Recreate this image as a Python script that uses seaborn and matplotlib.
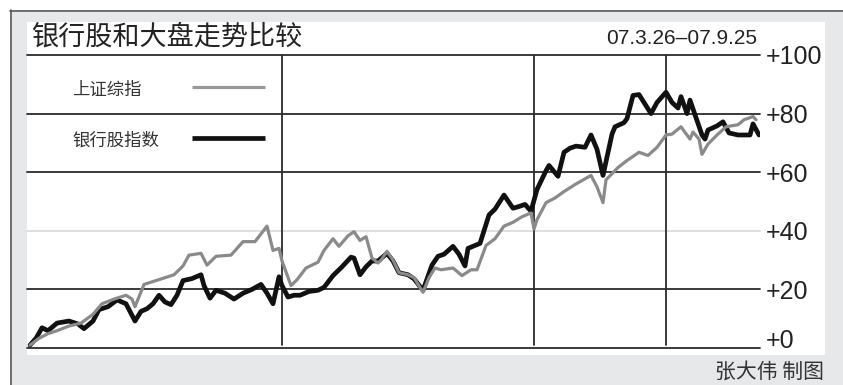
import matplotlib
matplotlib.use("Agg")
import matplotlib.pyplot as plt
import seaborn as sns
import pandas as pd
from matplotlib.patches import Rectangle
from matplotlib.lines import Line2D

# ---------------- data ----------------
title = "银行股和大盘走势比较"
date_range = "07.3.26–07.9.25"
credit = "张大伟 制图"
series_names = ["上证综指", "银行股指数"]

sh_t = [0, 3, 6, 9, 13, 17, 21, 24, 28, 32, 34, 35, 38, 42, 45, 48, 51, 53, 57, 59,
        62, 67, 71, 75, 79, 81, 83, 84, 87, 89, 92, 96, 98, 101, 103, 106, 108, 110, 112, 114,
        116, 117, 119, 121, 123, 126, 128, 131, 133, 135, 137, 141, 144, 147, 149, 152, 155, 158, 161, 164,
        167, 168, 169, 172, 175, 178, 182, 187, 189, 191, 192, 196, 199, 203, 206, 209, 212, 214, 217, 220,
        221, 223, 224, 226, 229, 232, 236, 238, 241, 242]
sh_v = [1.0, 3.3, 4.9, 5.9, 7.5, 8.5, 11.5, 15.1, 16.7, 18.0, 16.7, 14.1, 21.7, 23.0, 24.0, 25.0, 28.0, 31.7, 32.3, 28.3,
        31.3, 31.7, 36.3, 36.3, 41.6, 33.3, 34.0, 29.7, 21.3, 23.3, 27.3, 29.3, 33.3, 37.3, 34.7, 38.3, 39.7, 36.7, 38.0, 30.7,
        29.0, 30.0, 33.0, 30.0, 25.7, 25.0, 24.0, 19.0, 24.0, 27.3, 26.7, 27.3, 24.7, 26.7, 26.7, 35.0, 37.3, 41.6, 42.9, 44.8,
        46.1, 40.6, 43.8, 49.6, 51.2, 53.4, 56.0, 58.9, 55.0, 49.6, 57.4, 61.6, 64.0, 66.8, 65.7, 68.5, 72.7, 73.0, 75.5, 71.3,
        73.7, 71.3, 66.1, 69.6, 72.7, 75.5, 76.2, 77.9, 79.0, 77.9]

bank_t = [0, 2, 4, 6, 9, 13, 16, 18, 21, 23, 26, 29, 32, 35, 37, 39, 41, 43, 45, 47,
          49, 51, 54, 57, 58, 60, 62, 65, 68, 71, 74, 77, 79, 81, 83, 84, 86, 88, 90, 93,
          96, 98, 101, 104, 107, 108, 110, 112, 114, 116, 119, 121, 123, 126, 128, 131, 134, 136, 138, 141,
          143, 145, 146, 150, 153, 155, 158, 161, 163, 165, 167, 169, 172, 173, 176, 178, 180, 182, 185, 187,
          189, 191, 194, 195, 198, 199, 201, 203, 207, 209, 212, 214, 216, 217, 219, 220, 222, 224, 225, 226,
          229, 231, 233, 236, 240, 241, 243]
bank_v = [1.0, 3.3, 6.9, 5.9, 8.5, 9.2, 8.2, 6.6, 9.2, 13.1, 14.1, 16.4, 15.1, 9.2, 12.5, 13.4, 15.1, 18.0, 15.7, 14.8,
          18.0, 23.0, 23.7, 25.0, 21.3, 17.0, 19.7, 18.7, 16.7, 18.7, 20.0, 21.7, 18.7, 15.1, 24.3, 21.3, 17.4, 18.0, 18.0, 19.3,
          19.7, 20.7, 24.7, 27.7, 31.0, 30.7, 25.0, 27.7, 29.7, 29.7, 32.3, 29.7, 25.7, 25.0, 23.6, 19.7, 28.3, 31.3, 32.0, 34.7,
          32.0, 28.0, 34.0, 35.7, 45.4, 47.4, 52.2, 47.7, 48.3, 49.0, 46.7, 54.1, 60.5, 62.3, 58.6, 66.8, 68.2, 68.9, 68.5, 72.7,
          67.8, 58.9, 73.0, 75.5, 76.9, 78.3, 86.2, 86.5, 80.0, 83.8, 87.3, 83.8, 81.9, 85.8, 80.0, 84.6, 78.6, 72.7, 71.3, 74.4,
          75.8, 77.2, 73.4, 72.7, 72.7, 76.5, 72.7]

y_ticks = [0, 20, 40, 60, 80, 100]
y_labels = ["+0", "+20", "+40", "+60", "+80", "+100"]
event_t = [84, 168, 212]

# ---------------- style ----------------
sns.set_theme(style="white")
plt.rcParams["font.family"] = ["Noto Sans CJK SC", "DejaVu Sans"]

W, H = 843, 385
fig = plt.figure(figsize=(W / 100, H / 100), dpi=100)
fig.patch.set_facecolor("white")

# outer frame (drawn beneath the axes)
fig.add_artist(Rectangle((10 / W, 0), 1 - 10 / W, 1 - 10 / H, transform=fig.transFigure,
                         facecolor="#e7e8ea", edgecolor="none", zorder=-3))
fig.add_artist(Line2D([10 / W, 1], [1 - 10.5 / H] * 2, transform=fig.transFigure,
                      color="#5a5a5a", lw=1.2, zorder=-2))
fig.add_artist(Line2D([10.5 / W] * 2, [0, 1 - 10 / H], transform=fig.transFigure,
                      color="#5a5a5a", lw=1.2, zorder=-2))
fig.add_artist(Rectangle((27 / W, 1 - 355 / H), (825 - 27) / W, (355 - 22) / H,
                         transform=fig.transFigure, facecolor="white", edgecolor="none", zorder=-1))

ax = fig.add_axes([27 / W, 1 - 348 / H, 733 / W, 293 / H])
ax.set_facecolor("none")

df_sh = pd.DataFrame({"t": sh_t, "v": sh_v})
df_bank = pd.DataFrame({"t": bank_t, "v": bank_v})
sns.lineplot(data=df_bank, x="t", y="v", ax=ax, color="#111111", lw=3.4,
             estimator=None, zorder=3)
sns.lineplot(data=df_sh, x="t", y="v", ax=ax, color="#8a8a8a", lw=2.3,
             estimator=None, zorder=4)

for v in y_ticks:
    ax.axhline(v, color=("#dcdcdc" if v == 40 else "#2b2b2b"), lw=1.3, zorder=1, clip_on=False)
for t in event_t:
    ax.axvline(t, ymin=0.01, ymax=1, color="#2b2b2b", lw=1.3, zorder=1)

ax.set_xlim(-1, 243.33)
ax.set_ylim(0, 100)
ax.set_xticks([])
ax.set_yticks(y_ticks)
ax.set_yticklabels(y_labels, fontfamily="Liberation Sans", fontsize=18, color="#222222")
ax.yaxis.tick_right()
ax.tick_params(axis="y", length=0, pad=4)
for lab in ax.yaxis.get_ticklabels():
    if lab.get_text() == "+0":
        lab.set_verticalalignment("baseline")
ax.set_xlabel("")
ax.set_ylabel("")
for s in ax.spines.values():
    s.set_visible(False)

# legend (manual)
leg_rows = [(0.891, "#999999", 2.3), (0.717, "#111111", 3.4)]
for name, (yy, col, lw) in zip(series_names, leg_rows):
    ax.text(0.0614, yy - 0.01, name, transform=ax.transAxes, fontsize=12.5,
            ha="left", va="center", color="#333333")
    ax.add_line(Line2D([0.225, 0.325], [yy, yy], transform=ax.transAxes,
                       color=col, lw=lw, solid_capstyle="butt"))

# texts
fig.text(31 / W, 1 - 37.5 / H, title, fontsize=19.5, ha="left", va="center", color="#222222")
fig.text(757 / W, 1 - 38 / H, date_range, fontsize=15, ha="right", va="center",
         family="Liberation Sans", color="#222222")
fig.text(824 / W, 1 - 372 / H, credit, fontsize=15, ha="right", va="center", color="#333333")

fig.savefig("out.png", dpi=100)
